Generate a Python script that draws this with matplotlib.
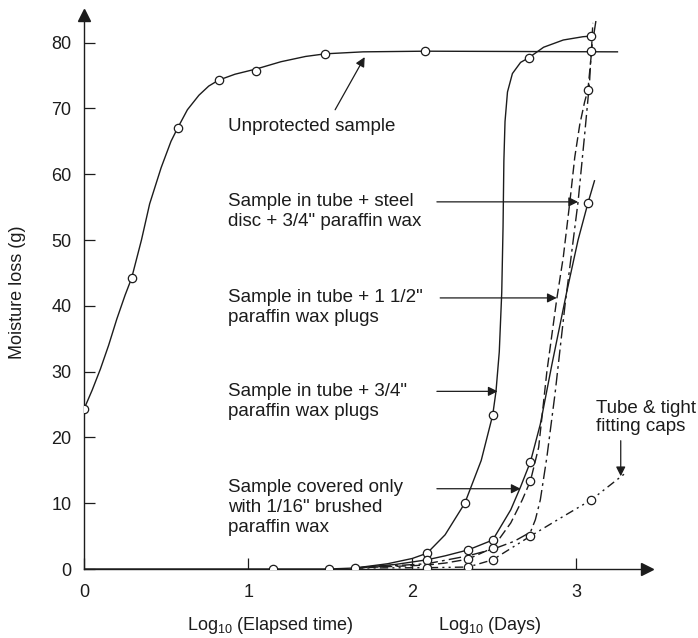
import numpy as np
import matplotlib
matplotlib.use('Agg')
import matplotlib.pyplot as plt

plt.rcParams['font.family'] = ['Liberation Sans', 'DejaVu Sans']
plt.rcParams['mathtext.default'] = 'regular'

# Unprotected sample
unprot_x = [0, 0.05, 0.1, 0.15, 0.2, 0.25, 0.29, 0.35, 0.40, 0.47, 0.53, 0.57, 0.63, 0.70,
            0.76, 0.82, 0.92, 1.05, 1.20, 1.35, 1.47, 1.70, 2.08, 3.25]
unprot_y = [24.3, 27.2, 30.4, 34.0, 38.0, 41.6, 44.2, 50.0, 55.5, 61.0, 65.0, 67.0, 69.8, 72.0,
            73.4, 74.3, 75.2, 76.0, 77.1, 77.9, 78.3, 78.6, 78.7, 78.6]
unprot_pts_x = [0, 0.29, 0.57, 0.82, 1.05, 1.47, 2.08]
unprot_pts_y = [24.3, 44.2, 67.0, 74.3, 75.7, 78.3, 78.7]

# common start of the protected samples
base_x = [0, 1.15, 1.49, 1.65]
base_y = [0, 0, 0, 0.15]

# tube + 3/4" paraffin wax plugs
plug34_x = [1.65, 1.85, 2.0, 2.09, 2.2, 2.32, 2.42, 2.49, 2.51, 2.53, 2.545, 2.553, 2.558,
            2.565, 2.58, 2.61, 2.66, 2.71, 2.80, 2.92, 3.04, 3.09]
plug34_y = [0.15, 0.8, 1.6, 2.4, 5.2, 10.0, 16.5, 23.4, 27.0, 33.0, 42.0, 52.0, 62.0,
            68.0, 72.5, 75.3, 77.0, 77.7, 79.3, 80.4, 80.9, 81.0]
plug34_pts_x = [2.09, 2.32, 2.49, 2.71, 3.09]
plug34_pts_y = [2.4, 10.0, 23.4, 77.7, 81.0]

# covered only with 1/16" brushed paraffin wax
brush_x = [1.65, 1.9, 2.09, 2.2, 2.34, 2.49, 2.6, 2.66, 2.72, 2.78, 2.85, 2.94, 3.01, 3.07, 3.11]
brush_y = [0.15, 0.7, 1.4, 2.0, 2.9, 4.4, 9.0, 12.5, 16.3, 22.0, 31.0, 42.0, 50.0, 55.6, 59.0]
brush_pts_x = [2.09, 2.34, 2.49, 2.72, 3.07]
brush_pts_y = [1.4, 2.9, 4.4, 16.3, 55.6]

# tube + 1 1/2" paraffin wax plugs
plug112_x = [1.65, 2.09, 2.2, 2.34, 2.49, 2.6, 2.67, 2.72, 2.77, 2.82, 2.88, 2.92, 2.96,
             2.99, 3.02, 3.05, 3.07, 3.09, 3.10]
plug112_y = [0.15, 0.6, 0.9, 1.5, 3.2, 7.0, 10.5, 13.4, 18.5, 30.0, 41.0, 47.4, 55.8,
             62.6, 67.5, 71.0, 72.8, 78.0, 83.0]
plug112_pts_x = [2.34, 2.49, 2.72, 3.07]
plug112_pts_y = [1.5, 3.2, 13.4, 72.8]

# tube + steel disc + 3/4" paraffin wax
steel_x = [1.65, 2.09, 2.34, 2.49, 2.62, 2.72, 2.75, 2.78, 2.82, 2.87, 2.93, 3.01, 3.05,
           3.08, 3.09, 3.12]
steel_y = [0.15, 0.8, 2.0, 3.0, 4.2, 5.6, 7.5, 10.5, 17.0, 26.7, 40.0, 55.8, 66.0,
           74.0, 78.7, 83.5]
steel_pts_x = [3.09]
steel_pts_y = [78.7]

# tube & tight fitting caps
caps_x = [1.65, 2.09, 2.34, 2.49, 2.72, 2.90, 3.09, 3.30]
caps_y = [0.15, 0.2, 0.3, 1.4, 5.0, 7.7, 10.5, 14.6]
caps_pts_x = [2.09, 2.34, 2.49, 2.72, 3.09]
caps_pts_y = [0.2, 0.3, 1.4, 5.0, 10.5]

x_ticks = [0, 1, 2, 3]
y_ticks = [0, 10, 20, 30, 40, 50, 60, 70, 80]

ink = '#1c1c1c'

fig = plt.figure(figsize=(6.98, 6.38), dpi=100)
ax = fig.add_axes([84 / 698, 69 / 638, 563 / 698, 554 / 638])
ax.set_xlim(0, 3.43)
ax.set_ylim(0, 84.2)

mk = dict(marker='o', ms=6, mfc='white', mec=ink, mew=0.9, ls='none', zorder=5)

ax.plot(unprot_x, unprot_y, color=ink, lw=1.0)
ax.plot(unprot_pts_x, unprot_pts_y, **mk)
ax.plot(base_x, base_y, color=ink, lw=1.0)
ax.plot(base_x[1:], base_y[1:], **mk)

ax.plot(plug34_x, plug34_y, color=ink, lw=1.0)
ax.plot(plug34_pts_x, plug34_pts_y, **mk)
ax.plot(brush_x, brush_y, color=ink, lw=1.0)
ax.plot(brush_pts_x, brush_pts_y, **mk)
ax.plot(plug112_x, plug112_y, color=ink, lw=1.0, ls=(0, (7, 3)))
ax.plot(plug112_pts_x, plug112_pts_y, **mk)
ax.plot(steel_x, steel_y, color=ink, lw=1.0, ls=(0, (9, 3, 2, 3)))
ax.plot(steel_pts_x, steel_pts_y, **mk)
ax.plot(caps_x, caps_y, color=ink, lw=1.0, ls=(0, (6, 3, 1.5, 3, 1.5, 3)))
ax.plot(caps_pts_x, caps_pts_y, **mk)

# axes: only left and bottom, with arrow heads
for s in ['top', 'right']:
    ax.spines[s].set_visible(False)
for s in ['left', 'bottom']:
    ax.spines[s].set_color(ink)
    ax.spines[s].set_linewidth(1.0)
ax.plot(1, 0, marker='>', color=ink, ms=8, transform=ax.transAxes, clip_on=False)
ax.plot(0, 1, marker='^', color=ink, ms=8, transform=ax.transAxes, clip_on=False)

ax.set_xticks(x_ticks)
ax.set_yticks(y_ticks)
ax.tick_params(axis='y', direction='in', length=8, width=0.9, color=ink,
               labelsize=13, labelcolor=ink, pad=9)
ax.tick_params(axis='x', direction='in', length=8, width=0.9, color=ink,
               labelsize=13, labelcolor=ink, pad=11)

ax.set_ylabel('Moisture loss (g)', fontsize=13, color=ink)
ax.yaxis.set_label_coords(-0.103, 0.5)

fig.text(270 / 698, 12 / 638, 'Log$_{10}$ (Elapsed time)', ha='center', va='center',
         fontsize=13, color=ink)
fig.text(490 / 698, 12 / 638, 'Log$_{10}$ (Days)', ha='center', va='center',
         fontsize=13, color=ink)

# labels and arrows
fs = 13.5
ls_left = 1.22
arr = dict(arrowstyle='-|>', color=ink, lw=0.9, mutation_scale=14, shrinkA=0, shrinkB=0)

ax.text(0.878, 67.2, 'Unprotected sample', fontsize=fs, color=ink, va='center')
ax.annotate('', xy=(1.71, 77.8), xytext=(1.53, 69.8), arrowprops=arr)

ax.text(0.878, 54.3, 'Sample in tube + steel\ndisc + 3/4" paraffin wax', fontsize=fs,
        color=ink, va='center', linespacing=ls_left)
ax.annotate('', xy=(3.01, 55.8), xytext=(2.15, 55.8), arrowprops=arr)

ax.text(0.878, 39.7, 'Sample in tube + 1 1/2"\nparaffin wax plugs', fontsize=fs,
        color=ink, va='center', linespacing=ls_left)
ax.annotate('', xy=(2.88, 41.2), xytext=(2.17, 41.2), arrowprops=arr)

ax.text(0.878, 25.5, 'Sample in tube + 3/4"\nparaffin wax plugs', fontsize=fs,
        color=ink, va='center', linespacing=ls_left)
ax.annotate('', xy=(2.52, 27.0), xytext=(2.15, 27.0), arrowprops=arr)

ax.text(0.878, 9.35, 'Sample covered only\nwith 1/16" brushed\nparaffin wax', fontsize=fs,
        color=ink, va='center', linespacing=ls_left)
ax.annotate('', xy=(2.66, 12.2), xytext=(2.15, 12.2), arrowprops=arr)

ax.text(3.12, 23.0, 'Tube & tight\nfitting caps', fontsize=fs, color=ink, va='center',
        linespacing=1.1, clip_on=False)
ax.annotate('', xy=(3.27, 14.1), xytext=(3.27, 19.5), arrowprops=arr)

fig.savefig('out.png', dpi=100, facecolor='white')
